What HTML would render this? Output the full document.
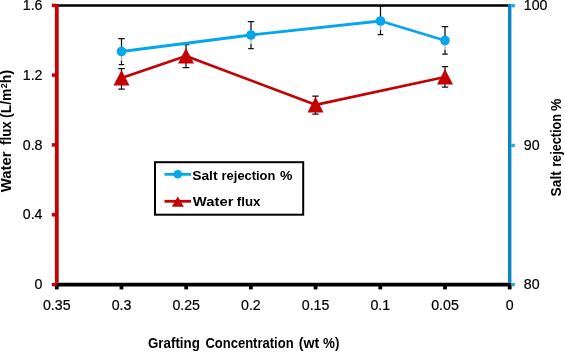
<!DOCTYPE html>
<html><head><meta charset="utf-8">
<style>
html,body{margin:0;padding:0;background:#fff;}
body{width:565px;height:352px;overflow:hidden;font-family:"Liberation Sans",sans-serif;}
svg{display:block;}
text{font-family:"Liberation Sans",sans-serif;fill:#000;}
svg{will-change:transform;}
.b{font-weight:bold;}
</style></head><body>
<svg width="565" height="352" viewBox="0 0 565 352">
<rect width="565" height="352" fill="#fff"/>
<line x1="56.8" y1="5.45" x2="508.2" y2="5.45" stroke="#000" stroke-width="2.5"/>
<line x1="55.0" y1="284.6" x2="511.4" y2="284.6" stroke="#000" stroke-width="3.7"/>
<g stroke="#000" stroke-width="3.8">
<line x1="56.8" y1="284.6" x2="56.8" y2="289.4"/>
<line x1="121.5" y1="284.6" x2="121.5" y2="289.4"/>
<line x1="186.2" y1="284.6" x2="186.2" y2="289.4"/>
<line x1="250.9" y1="284.6" x2="250.9" y2="289.4"/>
<line x1="315.6" y1="284.6" x2="315.6" y2="289.4"/>
<line x1="380.3" y1="284.6" x2="380.3" y2="289.4"/>
<line x1="445.0" y1="284.6" x2="445.0" y2="289.4"/>
<line x1="509.7" y1="284.6" x2="509.7" y2="289.4"/>
</g>
<line x1="56.8" y1="3.9000000000000004" x2="56.8" y2="282.8" stroke="#c40204" stroke-width="3.8"/>
<g stroke="#c40204" stroke-width="3.5">
<line x1="51.8" y1="5.4" x2="56.8" y2="5.4"/>
<line x1="51.8" y1="75.1" x2="56.8" y2="75.1"/>
<line x1="51.8" y1="144.9" x2="56.8" y2="144.9"/>
<line x1="51.8" y1="214.8" x2="56.8" y2="214.8"/>
<line x1="51.8" y1="284.6" x2="56.8" y2="284.6"/>
</g>
<line x1="509.7" y1="3.9000000000000004" x2="509.7" y2="282.8" stroke="#0786bf" stroke-width="3.4"/>
<g stroke="#22a8e6" stroke-width="3.3">
<line x1="511.2" y1="5.7" x2="514.8" y2="5.7"/>
<line x1="511.2" y1="145.4" x2="514.8" y2="145.4"/>
<line x1="511.2" y1="284.6" x2="514.8" y2="284.6"/>
</g>
<g stroke="#111" stroke-width="1.25" fill="none">
<path d="M121.5 38.5V51.5M121.5 60.4V64.5M118.3 38.5h6.4M118.7 64.5h5.6"/>
<path d="M121.5 51.5V60.4" stroke="#aaa"/>
<path d="M251 21.5V35M251 44.1V48.5M247.8 21.5h6.4M248.2 48.5h5.6"/>
<path d="M251 35V44.1" stroke="#aaa"/>
<path d="M380.5 6V21M380.5 30.1V34.5M377.3 6h6.4M377.7 34.5h5.6"/>
<path d="M380.5 21V30.1" stroke="#aaa"/>
<path d="M445 26.5V40.5M445 49.6V54M441.8 26.5h6.4M442.2 54h5.6"/>
<path d="M445 40.5V49.6" stroke="#aaa"/>
<path d="M121.5 68.5V89M118.3 68.5h6.4M118.3 89h6.4"/>
<path d="M186 44.5V67.5M182.8 44.5h6.4M182.8 67.5h6.4"/>
<path d="M315.5 96V114M312.3 96h6.4M312.3 114h6.4"/>
<path d="M445 66.5V87M441.8 66.5h6.4M441.8 87h6.4"/>
</g>
<polyline points="121.5,78 186,56 315.5,104.8 445,77" fill="none" stroke="#c40204" stroke-width="2.8" stroke-linejoin="round"/>
<g fill="#c40204">
<path d="M121.5 70.0L129.5 85.6H113.5Z"/>
<path d="M186 48.0L194 63.6H178Z"/>
<path d="M315.5 96.8L323.5 112.39999999999999H307.5Z"/>
<path d="M445 69.0L453 84.6H437Z"/>
</g>
<polyline points="121.5,51.5 251,35 380.5,21 445,40.5" fill="none" stroke="#04a7ec" stroke-width="2.8" stroke-linejoin="round"/>
<g fill="#04a7ec">
<circle cx="121.5" cy="51.5" r="4.8"/>
<circle cx="251" cy="35" r="4.8"/>
<circle cx="380.5" cy="21" r="4.8"/>
<circle cx="445" cy="40.5" r="4.8"/>
</g>
<rect x="155" y="162.2" width="148.2" height="52.5" fill="#fff" stroke="#000" stroke-width="2"/>
<line x1="164.5" y1="174.3" x2="191" y2="174.3" stroke="#04a7ec" stroke-width="2.8"/>
<circle cx="177.8" cy="174.3" r="4.3" fill="#04a7ec"/>
<line x1="164.5" y1="201.3" x2="191" y2="201.3" stroke="#c40204" stroke-width="2.8"/>
<path d="M177.8 196.6L183.8 206.8H171.8Z" fill="#c40204"/>

<text class="b" x="192.2" y="179.6" font-size="13.6" textLength="25.4" lengthAdjust="spacingAndGlyphs">Salt</text>
<text class="b" x="221.6" y="179.6" font-size="13.6" textLength="53.8" lengthAdjust="spacingAndGlyphs">rejection</text>
<text class="b" x="280.0" y="179.6" font-size="13.6" textLength="12.4" lengthAdjust="spacingAndGlyphs">%</text>
<text class="b" x="192.8" y="205.8" font-size="13.6" textLength="40.6" lengthAdjust="spacingAndGlyphs">Water</text>
<text class="b" x="236.8" y="205.8" font-size="13.6" textLength="23.6" lengthAdjust="spacingAndGlyphs">flux</text>

<g font-size="14.2" text-anchor="end" stroke="#000" stroke-width="0.2">
<text x="42.5" y="9.8">1.6</text>
<text x="42.5" y="79.7">1.2</text>
<text x="42.5" y="149.5">0.8</text>
<text x="42.5" y="219.3">0.4</text>
<text x="42.5" y="289.2">0</text>
</g>
<g font-size="14.2" text-anchor="start" stroke="#000" stroke-width="0.2">
<text x="523.8" y="10.0">100</text>
<text x="523.8" y="149.7">90</text>
<text x="523.8" y="289.4">80</text>
</g>
<g font-size="14.2" text-anchor="middle" stroke="#000" stroke-width="0.2">
<text x="56.8" y="309.6">0.35</text>
<text x="121.5" y="309.6">0.3</text>
<text x="186.2" y="309.6">0.25</text>
<text x="250.9" y="309.6">0.2</text>
<text x="315.6" y="309.6">0.15</text>
<text x="380.3" y="309.6">0.1</text>
<text x="445.0" y="309.6">0.05</text>
<text x="509.7" y="309.6">0</text>
</g>

<text class="b" x="148.0" y="348.3" font-size="14" textLength="51.8" lengthAdjust="spacingAndGlyphs">Grafting</text>
<text class="b" x="205.4" y="348.3" font-size="14" textLength="88.2" lengthAdjust="spacingAndGlyphs">Concentration</text>
<text class="b" x="298.8" y="348.3" font-size="14" textLength="20.4" lengthAdjust="spacingAndGlyphs">(wt</text>
<text class="b" x="323.0" y="348.3" font-size="14" textLength="16.4" lengthAdjust="spacingAndGlyphs">%)</text>
<g transform="translate(11.4,192.2) rotate(-90)">
<text class="b" x="0" y="0" font-size="14" textLength="40.8" lengthAdjust="spacingAndGlyphs">Water</text>
<text class="b" x="47.3" y="0" font-size="14" textLength="23.6" lengthAdjust="spacingAndGlyphs">flux</text>
<text class="b" x="74.3" y="0" font-size="14" textLength="29.4" lengthAdjust="spacingAndGlyphs">(L/m</text>
<text class="b" x="104.0" y="-4.5" font-size="9" textLength="5.0" lengthAdjust="spacingAndGlyphs">2</text>
<text class="b" x="109.0" y="0" font-size="14" textLength="13.4" lengthAdjust="spacingAndGlyphs">h)</text>
</g>
<g transform="translate(560.5,196.4) rotate(-90)">
<text class="b" x="0" y="0" font-size="14" textLength="25.2" lengthAdjust="spacingAndGlyphs">Salt</text>
<text class="b" x="29.6" y="0" font-size="14" textLength="52.8" lengthAdjust="spacingAndGlyphs">rejection</text>
<text class="b" x="85.4" y="0" font-size="14" textLength="12.4" lengthAdjust="spacingAndGlyphs">%</text>
</g>

</svg>
</body></html>
